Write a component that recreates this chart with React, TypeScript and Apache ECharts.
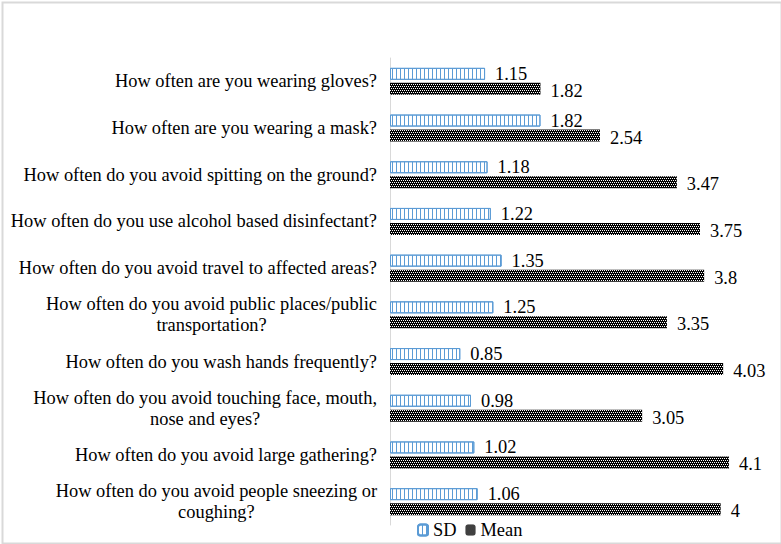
import React, { useEffect, useRef } from "react";
import * as echarts from "echarts";

const categories = [
  "How often are you wearing gloves?",
  "How often are you wearing a mask?",
  "How often do you avoid spitting on the ground?",
  "How often do you use alcohol based disinfectant?",
  "How often do you avoid travel to affected areas?",
  "How often do you avoid public places/public\ntransportation?",
  "How often do you wash hands frequently?",
  "How often do you avoid touching face, mouth,\nnose and eyes?",
  "How often do you avoid large gathering?",
  "How often do you avoid people sneezing or\ncoughing?",
];
const sdValues = [1.15, 1.82, 1.18, 1.22, 1.35, 1.25, 0.85, 0.98, 1.02, 1.06];
const meanValues = [1.82, 2.54, 3.47, 3.75, 3.8, 3.35, 4.03, 3.05, 4.1, 4];
const seriesNames = ["SD", "Mean"];

const FONT = "Liberation Serif";
const FS = 18.4;

export default function App() {
  const ref = useRef<HTMLDivElement>(null);
  useEffect(() => {
    if (!ref.current) return;
    const chart = echarts.init(ref.current, undefined, { renderer: "svg" });
    const valueLabel = {
      show: true,
      position: "right",
      distance: 10,
      fontFamily: FONT,
      fontSize: FS,
      color: "#000",
      formatter: (p: any) => String(p.value),
    };
    chart.setOption({
      animation: false,
      backgroundColor: "#fff",
      textStyle: { fontFamily: FONT },
      grid: { left: 390, right: 19, top: 58, bottom: 19, containLabel: false },
      legend: {
        bottom: 0,
        left: 412,
        itemWidth: 10,
        itemHeight: 11,
        itemGap: 9,
        textStyle: { fontFamily: FONT, fontSize: FS, color: "#000" },
        data: seriesNames,
      },
      xAxis: {
        type: "value",
        min: 0,
        max: 4.5,
        axisLabel: { show: false },
        axisLine: { show: false },
        axisTick: { show: false },
        splitLine: { show: false },
      },
      yAxis: {
        type: "category",
        inverse: true,
        data: categories,
        axisLine: { show: true, lineStyle: { color: "#d9d9d9", width: 1 } },
        axisTick: { show: false },
        axisLabel: {
          margin: 13,
          fontFamily: FONT,
          fontSize: FS,
          color: "#000",
          lineHeight: 21,
          formatter: (v: string) =>
            v.includes("\n")
              ? v
                  .split("\n")
                  .map((l) => `{c|${l}}`)
                  .join("\n")
              : v,
          rich: {
            c: {
              align: "center",
              fontFamily: FONT,
              fontSize: FS,
              color: "#000",
              lineHeight: 21,
            },
          },
        },
      },
      series: [
        {
          name: seriesNames[0],
          type: "bar",
          data: sdValues,
          barWidth: 12,
          barGap: "25%",
          itemStyle: {
            color: "#fff",
            borderColor: "#5b9bd5",
            borderWidth: 1,
            decal: {
              symbol: "rect",
              symbolSize: 1,
              color: "#5b9bd5",
              dashArrayX: [1, 3],
              dashArrayY: [4, 0],
              rotation: 0,
            },
          },
          label: valueLabel,
        },
        {
          name: seriesNames[1],
          type: "bar",
          data: meanValues,
          barWidth: 12,
          itemStyle: {
            color: "#000",
            decal: {
              symbol: "rect",
              symbolSize: 1,
              color: "#ffffff",
              dashArrayX: [
                [1, 1],
                [0, 1, 1, 0],
              ],
              dashArrayY: [1, 1],
              rotation: 0,
            },
          },
          label: { ...valueLabel, offset: [0, 2] },
        },
      ],
      graphic: [
        {
          type: "rect",
          left: 0,
          top: 0,
          shape: { x: 0, y: 0, width: 779, height: 541 },
          style: { fill: "none", stroke: "#d9d9d9", lineWidth: 2 },
          silent: true,
        },
      ],
    });
    return () => chart.dispose();
  }, []);
  return (
    <div
      ref={ref}
      style={{ position: "absolute", left: 0, top: 0, width: 781, height: 544 }}
    />
  );
}
